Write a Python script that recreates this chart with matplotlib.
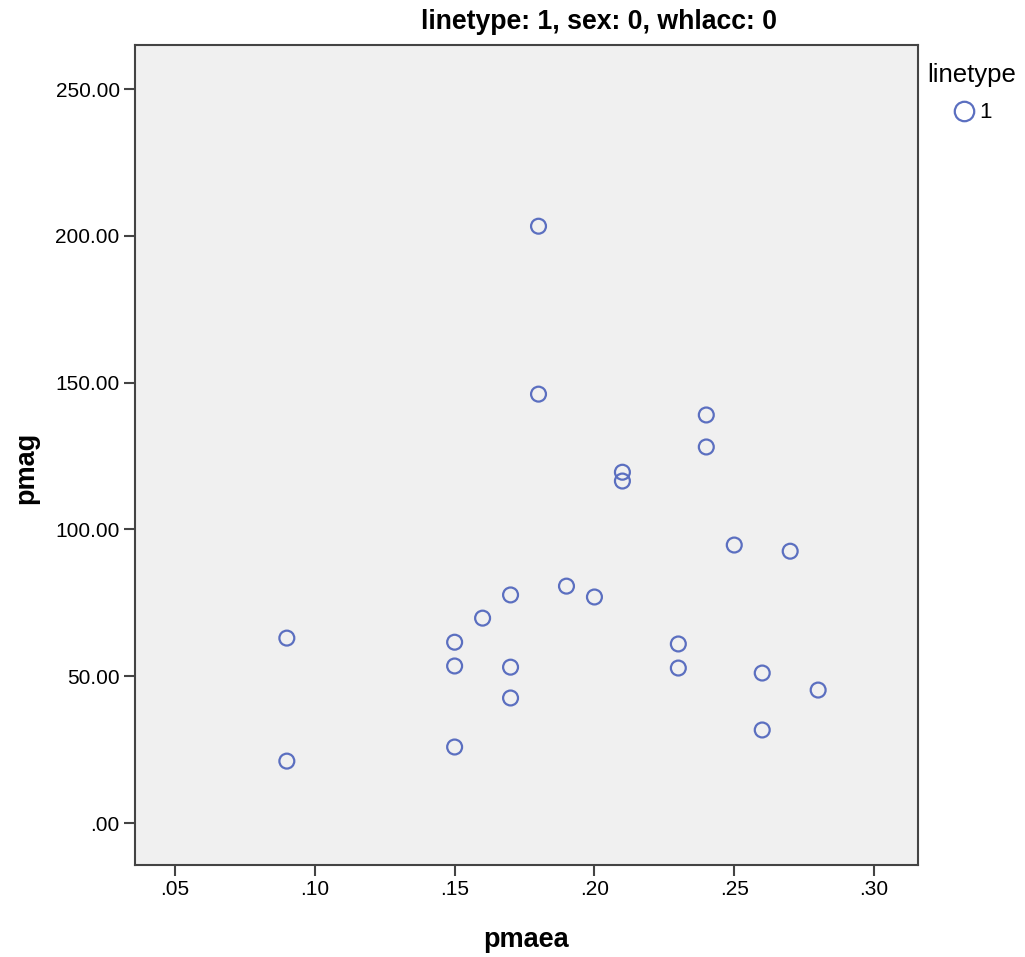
import matplotlib.pyplot as plt
from matplotlib.lines import Line2D

# pmaea / pmag for linetype 1, sex 0, whlacc 0
pmaea = [0.09, 0.09, 0.15, 0.15, 0.15, 0.16, 0.17, 0.17, 0.17, 0.18, 0.18, 0.19,
         0.20, 0.21, 0.21, 0.23, 0.23, 0.24, 0.24, 0.25, 0.26, 0.26, 0.27, 0.28]
pmag = [63.0, 21.1, 61.6, 53.5, 25.9, 69.8, 77.7, 53.1, 42.6, 203.3, 146.1, 80.7,
        77.0, 119.5, 116.5, 61.0, 52.8, 139.0, 128.1, 94.7, 51.1, 31.7, 92.6, 45.3]

x_ticks = [0.05, 0.10, 0.15, 0.20, 0.25, 0.30]
y_ticks = [0, 50, 100, 150, 200, 250]

plt.rcParams['font.family'] = ['Liberation Sans', 'DejaVu Sans']

fig = plt.figure(figsize=(10.25, 9.57), dpi=100)
ax = fig.add_axes([0.1317, 0.0961, 0.7639, 0.8568])
ax.set_facecolor('#f0f0f0')

ax.scatter(pmaea, pmag, s=115, facecolors='none', edgecolors='#5b6fc0', linewidths=1.6)

ax.set_xlim(0.0357, 0.3157)
ax.set_ylim(-14.3, 265)
ax.set_xticks(x_ticks)
ax.set_xticklabels(['.05', '.10', '.15', '.20', '.25', '.30'])
ax.set_yticks(y_ticks)
ax.set_yticklabels(['.00', '50.00', '100.00', '150.00', '200.00', '250.00'])
ax.tick_params(length=8, width=1.5, color='#444444', labelsize=15, pad=3)

for sp in ax.spines.values():
    sp.set_color('#444444')
    sp.set_linewidth(1.5)

ax.set_xlabel('pmaea', fontsize=19.5, fontweight='bold', va='center')
ax.xaxis.set_label_coords(0.5, -0.091)
ax.set_ylabel('pmag', fontsize=19.5, fontweight='bold', va='center')
ax.yaxis.set_label_coords(-0.139, 0.484)
ax.text(0.593, 1.028, 'linetype: 1, sex: 0, whlacc: 0', transform=ax.transAxes,
        fontsize=19.2, fontweight='bold', ha='center', va='center')

# legend
fig.text(0.905, 0.922, 'linetype', fontsize=18.5, ha='left', va='center')
handle = Line2D([], [], marker='o', linestyle='none', markersize=14,
                markerfacecolor='none', markeredgecolor='#5b6fc0', markeredgewidth=1.6)
fig.legend([handle], ['1'], loc='center left', bbox_to_anchor=(0.927, 0.882),
           frameon=False, fontsize=16, handletextpad=0.1, handlelength=1.2,
           borderaxespad=0, borderpad=0)

fig.savefig('out.png', dpi=100)
